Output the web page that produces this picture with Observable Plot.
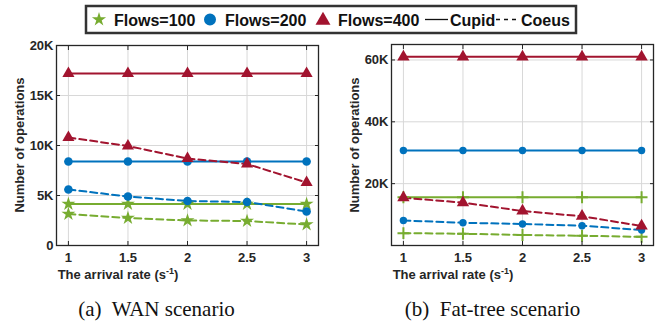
<!DOCTYPE html>
<html><head><meta charset="utf-8">
<script src="https://cdn.jsdelivr.net/npm/d3@7"></script>
<script src="https://cdn.jsdelivr.net/npm/@observablehq/plot@0.6"></script>
<style>
body{margin:0;background:#fff}
#root{position:relative;width:657px;height:322px;overflow:hidden;background:#fff}
.panel{position:absolute;top:0}
#overlay{position:absolute;left:0;top:0;pointer-events:none}
</style></head><body>
<div id="root"><div id="left" class="panel" style="left:0"></div><div id="right" class="panel" style="left:330px"></div></div>
<script>
// ---- data ----
const rates = [1, 1.5, 2, 2.5, 3];
const xTickLabels = ["1", "1.5", "2", "2.5", "3"];
const flowGroups = ["Flows=100", "Flows=200", "Flows=400"];
const methods = ["Cupid", "Coeus"];

// WAN scenario
const wanCupid100 = [4150, 4150, 4150, 4150, 4150];
const wanCupid200 = [8400, 8400, 8400, 8400, 8400];
const wanCupid400 = [17200, 17200, 17200, 17200, 17200];
const wanCoeus100 = [3150, 2750, 2500, 2450, 2100];
const wanCoeus200 = [5600, 4900, 4450, 4350, 3400];
const wanCoeus400 = [10800, 9950, 8700, 8150, 6300];

// Fat-tree scenario
const fatCupid100 = [15600, 15600, 15600, 15600, 15600];
const fatCupid200 = [30700, 30700, 30700, 30700, 30700];
const fatCupid400 = [61000, 61000, 61000, 61000, 61000];
const fatCoeus100 = [4000, 3800, 3400, 3150, 2800];
const fatCoeus200 = [8100, 7350, 6950, 6400, 5000];
const fatCoeus400 = [15450, 13850, 11150, 9450, 6300];

const wanYTicks = [0, 5000, 10000, 15000, 20000];
const wanYTickLabels = ["0", "5K", "10K", "15K", "20K"];
const fatYTicks = [20000, 40000, 60000];
const fatYTickLabels = ["20K", "40K", "60K"];

const seriesColors = ["#77AC30", "#0072BD", "#A2142F"];
const yLabelText = "Number of operations";
const captions = ["(a)  WAN scenario", "(b)  Fat-tree scenario"];

function toRows(cupid, coeus) {
  const rows = [];
  flowGroups.forEach((f, i) => {
    rates.forEach((r, j) => {
      rows.push({rate: r, value: cupid[i][j], flows: f, method: "Cupid"});
      rows.push({rate: r, value: coeus[i][j], flows: f, method: "Coeus"});
    });
  });
  return rows;
}
const wanRows = toRows([wanCupid100, wanCupid200, wanCupid400], [wanCoeus100, wanCoeus200, wanCoeus400]);
const fatRows = toRows([fatCupid100, fatCupid200, fatCupid400], [fatCoeus100, fatCoeus200, fatCoeus400]);

const ink = "#262626";

function panel(cfg) {
  const {rows, width, marginLeft, marginRight, marginTop, yDomain, yTicks, yLabels, markers} = cfg;
  const xFmt = d => xTickLabels[rates.indexOf(d)];
  const yFmt = d => yLabels[yTicks.indexOf(d)];
  const dotMarks = flowGroups.map((f, i) => {
    const m = markers[i];
    const data = rows.filter(d => d.flows === f);
    if (m.symbol === "plus") {
      return Plot.dot(data, {x: "rate", y: "value", symbol: "plus", r: m.r, stroke: seriesColors[i], strokeWidth: 2, fill: "none"});
    }
    return Plot.dot(data, {x: "rate", y: "value", symbol: m.symbol, r: m.r, fill: seriesColors[i], stroke: "none"});
  });
  const svg = Plot.plot({
    width, height: 290, marginLeft, marginRight, marginTop, marginBottom: 45,
    style: {fontFamily: "'Liberation Sans', Arial, sans-serif", fontSize: "13px", fontWeight: "bold", color: ink, background: "white", overflow: "visible"},
    x: {domain: [0.9, 3.1], label: null},
    y: {domain: yDomain, label: null},
    color: {domain: flowGroups, range: seriesColors},
    marks: [
      Plot.gridX(rates, {stroke: "#d8d8d8", strokeOpacity: 1, strokeWidth: 1}),
      Plot.gridY(yTicks, {stroke: "#d8d8d8", strokeOpacity: 1, strokeWidth: 1}),
      Plot.line(rows.filter(d => d.method === "Cupid"), {x: "rate", y: "value", z: "flows", stroke: "flows", strokeWidth: 2}),
      Plot.line(rows.filter(d => d.method === "Coeus"), {x: "rate", y: "value", z: "flows", stroke: "flows", strokeWidth: 2, strokeDasharray: "7,4"}),
      ...dotMarks,
      Plot.axisX(rates, {anchor: "bottom", tickSize: -4, tickPadding: 11, tickFormat: xFmt, label: null, stroke: ink, fill: ink}),
      Plot.axisX(rates, {anchor: "top", tickSize: -4, tickFormat: () => null, label: null, stroke: ink}),
      Plot.axisY(yTicks, {anchor: "left", tickSize: -4, tickPadding: 7, tickFormat: yFmt, label: null, stroke: ink, fill: ink}),
      Plot.axisY(yTicks, {anchor: "right", tickSize: -4, tickFormat: () => null, label: null, stroke: ink}),
      Plot.frame({stroke: ink, strokeWidth: 1.3})
    ]
  });
  const s = d3.select(svg);
  // x label with superscript
  const xl = s.append("text").attr("x", cfg.xLabelX).attr("y", 279)
    .attr("fill", ink).attr("font-size", 13).attr("font-weight", "bold");
  xl.append("tspan").text("The arrival rate (s");
  xl.append("tspan").attr("font-size", 9).attr("dy", -5).text("-1");
  xl.append("tspan").attr("dy", 5).text(")");
  // y label
  s.append("text").attr("transform", `translate(${cfg.yLabelX},145) rotate(-90)`)
    .attr("text-anchor", "middle").attr("fill", ink).attr("font-size", 13).attr("font-weight", "bold")
    .text(yLabelText);
  return svg;
}

document.getElementById("left").appendChild(panel({
  rows: wanRows, width: 330, marginLeft: 56, marginRight: 12, marginTop: 45,
  yDomain: [0, 20000], yTicks: wanYTicks, yLabels: wanYTickLabels,
  markers: [{symbol: "star", r: 4.4}, {symbol: "circle", r: 4.3}, {symbol: "triangle", r: 4.5}],
  xLabelX: 118, yLabelX: 23.5
}));
document.getElementById("right").appendChild(panel({
  rows: fatRows, width: 327, marginLeft: 61, marginRight: 4, marginTop: 44,
  yDomain: [0, 65000], yTicks: fatYTicks, yLabels: fatYTickLabels,
  markers: [{symbol: "plus", r: 3.9}, {symbol: "circle", r: 3.7}, {symbol: "triangle", r: 4.6}],
  xLabelX: 123, yLabelX: 28.5
}));

// ---- overlay: legend + captions ----
const ov = d3.select("#root").append("svg").attr("id", "overlay").attr("width", 657).attr("height", 322);
const lg = ov.append("g").attr("font-family", "'Liberation Sans', Arial, sans-serif").attr("font-weight", "bold").attr("font-size", 16).attr("fill", "#111");
lg.append("rect").attr("x", 86).attr("y", 6).attr("width", 490).attr("height", 27).attr("fill", "white").attr("stroke", "#333").attr("stroke-width", 2.5);
const legendSymbols = [d3.symbolStar, d3.symbolCircle, d3.symbolTriangle];
const legendSizes = [62, 113, 97];
const legendSymX = [99, 210, 323];
const legendSymY = [19.5, 19.5, 20.5];
const legendTextX = [114, 225, 338];
flowGroups.forEach((f, i) => {
  lg.append("path").attr("d", d3.symbol(legendSymbols[i], legendSizes[i])())
    .attr("transform", `translate(${legendSymX[i]},${legendSymY[i]})`).attr("fill", seriesColors[i]);
  lg.append("text").attr("x", legendTextX[i]).attr("y", 25.5).text(f);
});
lg.append("line").attr("x1", 425).attr("x2", 448).attr("y1", 19.5).attr("y2", 19.5).attr("stroke", "#111").attr("stroke-width", 1.3);
lg.append("text").attr("x", 450).attr("y", 25.5).text(methods[0]);
lg.append("line").attr("x1", 496).attr("x2", 519).attr("y1", 19.5).attr("y2", 19.5).attr("stroke", "#111").attr("stroke-width", 1.3).attr("stroke-dasharray", "4,4");
lg.append("text").attr("x", 521).attr("y", 25.5).text(methods[1]);

const capX = [156.5, 492.5];
captions.forEach((c, i) => {
  ov.append("text").attr("x", capX[i]).attr("y", 316).attr("text-anchor", "middle")
    .attr("font-family", "'Liberation Serif', 'Times New Roman', serif").attr("font-size", 21)
    .attr("fill", "#111").attr("xml:space", "preserve").style("white-space", "pre").text(c);
});
</script>
</body></html>
